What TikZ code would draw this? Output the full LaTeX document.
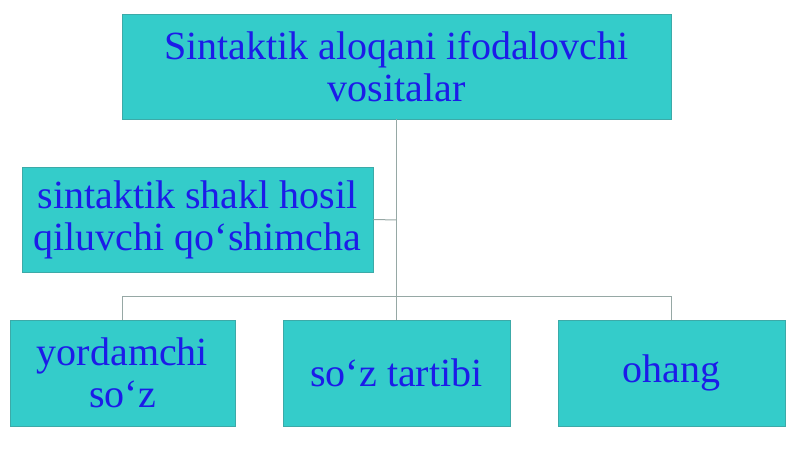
\documentclass[tikz,border=0pt]{standalone}
\usepackage{fontspec}
\setmainfont{Liberation Serif}
\definecolor{boxfill}{RGB}{52,204,202}
\definecolor{boxedge}{RGB}{60,170,168}
\definecolor{txtblue}{RGB}{28,28,232}
\definecolor{linecol}{RGB}{150,168,165}
\begin{document}
\begin{tikzpicture}[x=1pt,y=1pt,
  box/.style={draw=boxedge,line width=0.6pt,fill=boxfill,text=txtblue,align=center,
    inner sep=0pt,font=\fontsize{40}{42}\selectfont},
  conn/.style={draw=linecol,line width=1pt}]
\useasboundingbox (0,0) rectangle (800,449);
\node[box,minimum width=549pt,minimum height=105pt] (top) at (396.5,382.5) {Sintaktik aloqani ifodalovchi\\vositalar};
\node[box,minimum width=351pt,minimum height=105pt] (left) at (197.5,229.5) {sintaktik shakl hosil\\qiluvchi qo‘shimcha};
\node[box,minimum width=225pt,minimum height=106pt] (b1) at (122.5,76) {yordamchi\\so‘z};
\node[box,minimum width=227pt,minimum height=106pt] (b2) at (396.5,76) {so‘z tartibi};
\node[box,minimum width=227pt,minimum height=106pt] (b3) at (671.5,76) {ohang};
\coordinate (hub) at (396.5,152);
\coordinate (lj) at (396.5,229);
\draw[conn] (top.south) -- (b2.north);
\draw[conn] (left.east) -- (lj);
\draw[conn] (b1.north) -- (b1.north |- hub) -- (b3.north |- hub) -- (b3.north);
\end{tikzpicture}
\end{document}
